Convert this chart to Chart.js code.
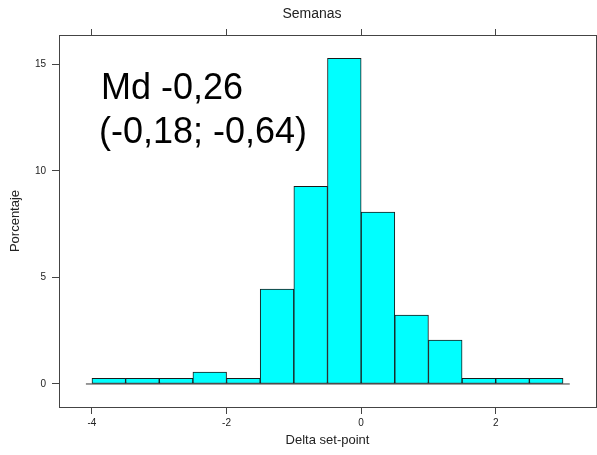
<!DOCTYPE html>
<html>
<head>
<meta charset="utf-8">
<script src="https://cdn.jsdelivr.net/npm/chart.js@4/dist/chart.umd.min.js"></script>
<style>
  html, body { margin: 0; padding: 0; background: #fff; }
  canvas { display: block; }
</style>
</head>
<body>
<canvas id="histChart" width="597" height="455"></canvas>
<script>
// bin edges (Delta set-point) and bar heights (Porcentaje)
const binEdges = [-4, -3.5, -3, -2.5, -2, -1.5, -1, -0.5, 0, 0.5, 1, 1.5, 2, 2.5, 3];
const percentages = [0.27, 0.27, 0.27, 0.56, 0.27, 4.45, 9.27, 15.27, 8.06, 3.23, 2.06, 0.27, 0.27, 0.27];
const xTicks = [-4, -2, 0, 2];
const yTicks = [0, 5, 10, 15];
const medianLines = ['Md -0,26', '(-0,18; -0,64)'];

const FONT = "'Liberation Sans', Arial, sans-serif";
const AXIS = '#444';

const barData = percentages.map(function(v, i) {
    return { x: (binEdges[i] + binEdges[i + 1]) / 2, y: v };
});
const baseLine = [
    { x: binEdges[0] - 0.09, y: 0 },
    { x: binEdges[binEdges.length - 1] + 0.1, y: 0 }
];

function fixedTicks(list) {
    return function(scale) {
        scale.ticks = list.map(function(v) { return { value: v }; });
    };
}

// title and median text
const textPlugin = {
    id: 'textPlugin',
    afterDraw: function(chart) {
        const ctx = chart.ctx;
        ctx.save();
        ctx.fillStyle = '#000';
        ctx.textAlign = 'left';
        ctx.textBaseline = 'alphabetic';
        ctx.font = '36px ' + FONT;
        ctx.fillText(medianLines[0], 101, 99);
        ctx.fillText(medianLines[1], 99, 143);
        ctx.fillStyle = '#222';
        ctx.textAlign = 'center';
        ctx.font = '14px ' + FONT;
        ctx.fillText('Semanas', 312, 18);
        ctx.restore();
    }
};

new Chart(document.getElementById('histChart').getContext('2d'), {
    data: {
        datasets: [{
            type: 'bar',
            data: barData,
            backgroundColor: '#00FFFF',
            borderColor: '#1a1a1a',
            borderWidth: 1,
            borderSkipped: false,
            barPercentage: 1,
            categoryPercentage: 1,
            order: 1
        }, {
            type: 'line',
            data: baseLine,
            borderColor: '#333',
            borderWidth: 1,
            pointRadius: 0,
            order: 2
        }]
    },
    options: {
        responsive: false,
        animation: false,
        layout: { padding: 0 },
        plugins: {
            legend: { display: false },
            tooltip: { enabled: false }
        },
        scales: {
            x: {
                type: 'linear',
                position: 'bottom',
                offset: false,
                min: -4.49,
                max: 3.49,
                afterBuildTicks: fixedTicks(xTicks),
                afterFit: function(s) { s.height = 48; },
                grid: { offset: false, drawOnChartArea: false, tickLength: 7, color: AXIS },
                border: { color: AXIS },
                ticks: { padding: 3, color: '#222', font: { family: FONT, size: 10 }, maxRotation: 0 },
                title: { display: true, text: 'Delta set-point', color: '#222', font: { family: FONT, size: 13 }, padding: { top: 0, bottom: 7 } }
            },
            x2: {
                type: 'linear',
                position: 'top',
                offset: false,
                min: -4.49,
                max: 3.49,
                afterBuildTicks: fixedTicks(xTicks),
                afterFit: function(s) { s.height = 35; },
                grid: { offset: false, drawOnChartArea: false, tickLength: 6, color: AXIS },
                border: { color: AXIS },
                ticks: { callback: function() { return ''; } }
            },
            y: {
                type: 'linear',
                position: 'left',
                min: -1.08,
                max: 16.37,
                afterBuildTicks: fixedTicks(yTicks),
                afterFit: function(s) { s.width = 59; },
                grid: { drawOnChartArea: false, tickLength: 7, color: AXIS },
                border: { color: AXIS },
                ticks: { padding: 6, color: '#222', font: { family: FONT, size: 10 } },
                title: { display: true, text: 'Porcentaje', color: '#222', font: { family: FONT, size: 13 }, padding: { top: 8, bottom: 0 } }
            },
            y2: {
                type: 'linear',
                position: 'right',
                min: -1.08,
                max: 16.37,
                afterBuildTicks: fixedTicks(yTicks),
                afterFit: function(s) { s.width = 1; },
                grid: { drawOnChartArea: false, drawTicks: false, color: AXIS },
                border: { color: AXIS },
                ticks: { display: false }
            }
        }
    },
    plugins: [textPlugin]
});
</script>
</body>
</html>
